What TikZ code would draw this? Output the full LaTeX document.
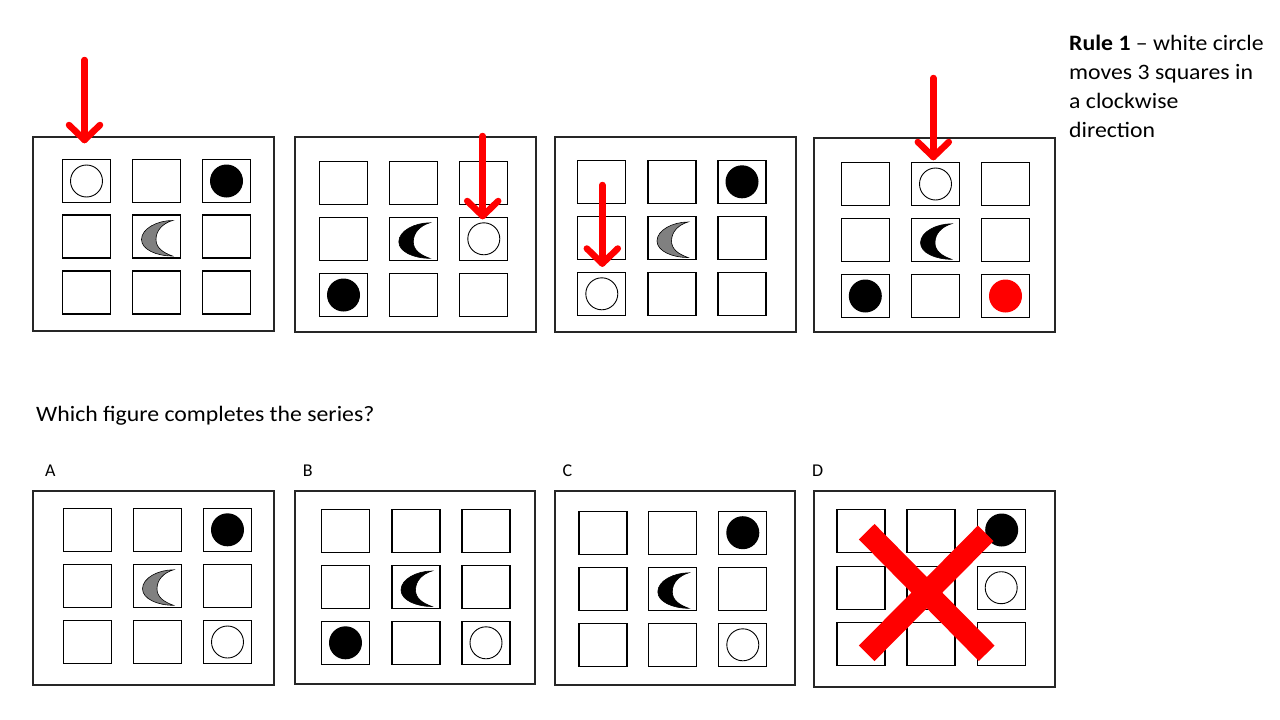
\documentclass[tikz,border=0pt]{standalone}
\usepackage{fontspec}
\setmainfont{Carlito}
\newfontfamily\txtfont[FakeStretch=1.08]{Carlito}
\newcommand\gridcells[7]{%
  \foreach \c/\x in {1/#2,2/#3,3/#4}{%
    \foreach \r/\y in {1/#5,2/#6,3/#7}{%
      \node[cell] (#1-\c\r) at (\x,\y) {};}}}
\newcommand\redhead[1]{\draw[redarrow] (#1) ++(-15.5,-15) -- (#1) -- ++(15.5,-15);}
\begin{document}
\begin{tikzpicture}[x=1pt,y=-1pt,
  panel/.style={draw=black!85,line width=2pt},
  cell/.style={draw=black,line width=1.3pt,minimum width=48pt,minimum height=43pt,inner sep=0pt},
  wcirc/.style={circle,draw=black,line width=0.9pt,fill=white,minimum size=32pt,inner sep=0pt},
  bcirc/.style={circle,fill=black,minimum size=33pt,inner sep=0pt},
  rcirc/.style={circle,fill=red,minimum size=33pt,inner sep=0pt},
  redarrow/.style={draw=red,line width=6.5pt,line cap=round,line join=round},
  redx/.style={draw=red,line width=22pt},
  txt/.style={font=\txtfont\fontsize{22}{29}\selectfont,inner sep=0pt},
  lbl/.style={font=\fontsize{18}{22}\selectfont,inner sep=0pt,anchor=base west},
  pics/moon/.style={code={\path[draw=black,line width=0.6pt,fill=#1]
     (16,-16) .. controls (1,-16) and (-15,-8) .. (-15,3)
     .. controls (-15,13) and (0,19.5) .. (16,19.5)
     .. controls (6,16) and (-0.5,11) .. (-0.5,3)
     .. controls (-0.5,-6) and (6,-13) .. (16,-16) -- cycle;}}
]
\useasboundingbox (0,0) rectangle (1280,720);
\fill[white] (0,0) rectangle (1280,720);

% ---------- top row panels ----------
\draw[panel] (33,137) rectangle (274,331);
\draw[panel] (295,137) rectangle (536,331.5);
\draw[panel] (555,137.3) rectangle (796,332);
\draw[panel] (814,138) rectangle (1055,332.3);

\gridcells{p1}{86.5}{156.5}{226.5}{181}{236.5}{292.5}
\gridcells{p2}{343.5}{413.8}{483.8}{182.8}{238.8}{295}
\gridcells{p3}{601.8}{672}{742}{181.8}{238}{293.8}
\gridcells{p4}{865.3}{935.5}{1005.5}{184}{239.8}{296}

% panel 1
\node[wcirc] (p1w) at (p1-11) {};
\node[bcirc] (p1b) at (p1-31) {};
\pic at (p1-22) {moon=gray};
% panel 2
\pic at (p2-22) {moon=black};
\node[wcirc] (p2w) at (p2-32) {};
\node[bcirc] (p2b) at (p2-13) {};
% panel 3
\node[bcirc] (p3b) at (p3-31) {};
\pic at (p3-22) {moon=gray};
\node[wcirc] (p3w) at (p3-13) {};
% panel 4
\node[wcirc] (p4w) at (p4-21) {};
\pic at (p4-22) {moon=black};
\node[bcirc] (p4b) at (p4-13) {};
\node[rcirc] (p4r) at (p4-33) {};

% red arrows
\coordinate (a1s) at (84.5,60);  \coordinate (a1t) at (84.5,140);
\coordinate (a2s) at (482.7,136); \coordinate (a2t) at (482.7,216);
\coordinate (a3s) at (602.3,185); \coordinate (a3t) at (602.3,263.5);
\coordinate (a4s) at (933.3,78);  \coordinate (a4t) at (933.3,157);
\draw[redarrow] (a1s) -- (a1t); \redhead{a1t}
\draw[redarrow] (a2s) -- (a2t); \redhead{a2t}
\draw[redarrow] (a3s) -- (a3t); \redhead{a3t}
\draw[redarrow] (a4s) -- (a4t); \redhead{a4t}

% rule text (anchor on the baseline of the last line)
\node[txt,anchor=base west,align=left] (rule) at (1069,137)
  {\textbf{Rule 1} – white circle\\moves 3 squares in\\a clockwise\\direction};

% question
\node[txt,anchor=base west] (q) at (36,421) {Which figure completes the series?};

% ---------- answer panels ----------
\node[lbl] (la) at (45,476.7) {A};
\node[lbl] (lb) at (302.7,476.7) {B};
\node[lbl] (lc) at (562.3,476.7) {C};
\node[lbl] (ld) at (812,476.7) {D};

\draw[panel] (33,490.7) rectangle (274,685);
\draw[panel] (295,490.7) rectangle (535,684);
\draw[panel] (555,490.7) rectangle (795,685);
\draw[panel] (814,491) rectangle (1055,686.5);

\gridcells{pa}{87.5}{157.5}{227.5}{529.8}{585.8}{642}
\gridcells{pb}{345.5}{416}{486}{530.7}{587}{642.8}
\gridcells{pc}{603}{672.8}{742.8}{532.7}{588.8}{644.8}
\gridcells{pd}{861}{931}{1001.2}{531.2}{587.7}{643.8}

% A
\node[bcirc] (pab) at (pa-31) {};
\pic at (pa-22) {moon=gray};
\node[wcirc] (paw) at (pa-33) {};
% B
\pic at (pb-22) {moon=black};
\node[bcirc] (pbb) at (pb-13) {};
\node[wcirc] (pbw) at (pb-33) {};
% C
\node[bcirc] (pcb) at (pc-31) {};
\pic at (pc-22) {moon=black};
\node[wcirc] (pcw) at (pc-33) {};
% D
\node[bcirc] (pdb) at (1001.7,530) {};
\node[wcirc] (pdw) at (pd-32) {};
\coordinate (x1a) at (866.7,531.7); \coordinate (x1b) at (986.7,653.3);
\coordinate (x2a) at (985.7,533.3); \coordinate (x2b) at (866.7,653.3);
\draw[redx] (x1a) -- (x1b);
\draw[redx] (x2a) -- (x2b);
\end{tikzpicture}
\end{document}
